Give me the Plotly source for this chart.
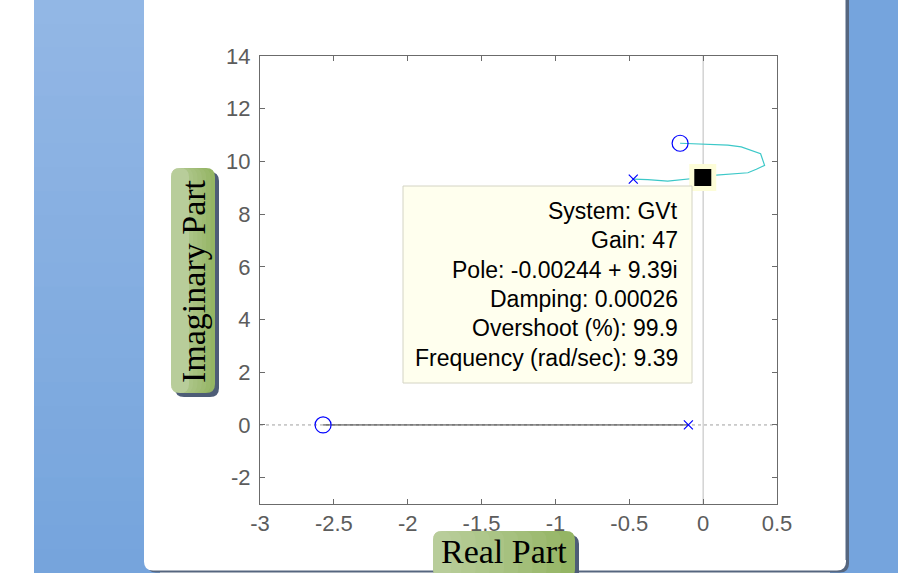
import plotly.graph_objects as go

# ---------------- data ----------------
locus_re = [-0.473, -0.375, -0.240, -0.081, -0.00244, 0.066, 0.190, 0.303, 0.360, 0.416,
            0.389, 0.326, 0.258, 0.168, -0.014, -0.156]
locus_im = [9.33, 9.31, 9.25, 9.34, 9.39, 9.47, 9.51, 9.57, 9.70, 9.85,
            10.29, 10.42, 10.55, 10.62, 10.65, 10.69]
real_branch_re = [-2.573, -0.100]
real_branch_im = [0.0, 0.0]
zeros_re = [-0.156, -2.573]
zeros_im = [10.69, 0.0]
poles_re = [-0.473, -0.100]
poles_im = [9.33, 0.0]
sel_re = [-0.00244]
sel_im = [9.39]

x_tickvals = [-3, -2.5, -2, -1.5, -1, -0.5, 0, 0.5]
x_ticktext = ["-3", "-2.5", "-2", "-1.5", "-1", "-0.5", "0", "0.5"]
y_tickvals = [-2, 0, 2, 4, 6, 8, 10, 12, 14]
y_ticktext = ["-2", "0", "2", "4", "6", "8", "10", "12", "14"]

tip_lines = ["System: GVt", "Gain: 47", "Pole: -0.00244 + 9.39i", "Damping: 0.00026",
             "Overshoot (%): 99.9", "Frequency (rad/sec): 9.39"]

# ---------------- layout geometry ----------------
W, H = 898, 573
ML, MR, MT, MB = 260, 121, 56, 69
PW, PH = W - ML - MR, H - MT - MB


def px(x):
    return (x - ML) / PW


def py(y):
    return (H - MB - y) / PH


def rrect(x0, y0, x1, y1, r):
    X0, X1 = px(x0), px(x1)
    Y0, Y1 = py(y0), py(y1)
    rx, ry = r / PW, r / PH
    return (f"M{X0+rx},{Y0} L{X1-rx},{Y0} Q{X1},{Y0} {X1},{Y0-ry} "
            f"L{X1},{Y1+ry} Q{X1},{Y1} {X1-rx},{Y1} L{X0+rx},{Y1} "
            f"Q{X0},{Y1} {X0},{Y1+ry} L{X0},{Y0-ry} Q{X0},{Y0} {X0+rx},{Y0} Z")


fig = go.Figure()

fig.add_trace(go.Scatter(x=real_branch_re, y=real_branch_im, mode="lines",
                         line=dict(color="#3a3a3a", width=1), hoverinfo="skip"))
fig.add_trace(go.Scatter(x=locus_re, y=locus_im, mode="lines",
                         line=dict(color="#3cc8c8", width=1.2), hoverinfo="skip"))
fig.add_trace(go.Scatter(x=zeros_re, y=zeros_im, mode="markers",
                         marker=dict(symbol="circle-open", size=16, color="#0000ff",
                                     line=dict(width=1.2, color="#0000ff")), hoverinfo="skip"))
fig.add_trace(go.Scatter(x=poles_re, y=poles_im, mode="markers",
                         marker=dict(symbol="x-thin-open", size=9, color="#0000ff",
                                     line=dict(width=1.2, color="#0000ff")), hoverinfo="skip"))
fig.add_trace(go.Scatter(x=sel_re, y=sel_im, mode="markers",
                         marker=dict(symbol="square", size=27, color="#fdfdd8",
                                     line=dict(width=0)), hoverinfo="skip"))
fig.add_trace(go.Scatter(x=sel_re, y=sel_im, mode="markers",
                         marker=dict(symbol="square", size=17, color="#000000",
                                     line=dict(width=0)), hoverinfo="skip"))

shapes = []
# background blue strips (left gradient)
top_c = (0x93, 0xB7, 0xE5)
bot_c = (0x75, 0xA4, 0xDC)
n = 24
for i in range(n):
    t = (i + 0.5) / n
    c = tuple(round(top_c[k] + (bot_c[k] - top_c[k]) * t) for k in range(3))
    shapes.append(dict(type="rect", xref="paper", yref="paper",
                       x0=px(34), x1=px(160), y0=py(i * H / n), y1=py((i + 1) * H / n + 1),
                       fillcolor="rgb(%d,%d,%d)" % c, line=dict(width=0), layer="below"))
shapes.append(dict(type="rect", xref="paper", yref="paper", x0=px(830), x1=px(898),
                   y0=py(0), y1=py(H), fillcolor="#75A4DD", line=dict(width=0), layer="below"))
# panel shadow + panel
shapes.append(dict(type="path", xref="paper", yref="paper", path=rrect(147, -20, 849, 572.5, 9),
                   fillcolor="#56667f", line=dict(width=0), layer="below"))
shapes.append(dict(type="path", xref="paper", yref="paper", path=rrect(144, -20, 846, 570.5, 9),
                   fillcolor="#ffffff", line=dict(width=0), layer="below"))
shapes.append(dict(type="line", xref="paper", yref="paper", x0=px(845.5), x1=px(845.5),
                   y0=py(-20), y1=py(560), line=dict(color="#a9b3c2", width=1), layer="below"))
# reference lines
shapes.append(dict(type="line", xref="x", yref="paper", x0=0, x1=0, y0=0, y1=1,
                   line=dict(color="#bdbdbd", width=1), layer="below"))
shapes.append(dict(type="line", xref="paper", yref="y", x0=0, x1=1, y0=0, y1=0,
                   line=dict(color="#a0a0a0", width=1, dash="dot"), layer="below"))
# data tip box
shapes.append(dict(type="rect", xref="paper", yref="paper", x0=px(403), x1=px(692),
                   y0=py(186), y1=py(383), fillcolor="#ffffee",
                   line=dict(color="#d4d4c4", width=1), layer="above"))


def label_box(x0, y0, x1, y1):
    out = [dict(type="path", xref="paper", yref="paper", path=rrect(x0 + 4, y0 + 4, x1 + 4, y1 + 4, 9),
                fillcolor="#4e5d77", line=dict(width=0), layer="above"),
           dict(type="path", xref="paper", yref="paper", path=rrect(x0, y0, x1, y1, 9),
                fillcolor="#8fb15c", line=dict(width=0), layer="above")]
    k = 10
    for j in range(1, k + 1):
        xe = x0 + (x1 - x0) * j / k
        out.append(dict(type="path", xref="paper", yref="paper",
                        path=rrect(x0, y0, max(xe, x0 + 18), y1, 9),
                        fillcolor="rgba(255,255,255,0.05)", line=dict(width=0), layer="above"))
    return out


shapes += label_box(171, 168, 215, 393)
shapes += label_box(433, 531, 575, 578)

annotations = []
line_step = 29.3
first_mid = 211
for i, txt in enumerate(tip_lines):
    annotations.append(dict(xref="paper", yref="paper", x=px(680), y=py(first_mid + i * line_step),
                            xanchor="right", yanchor="middle", text=txt, showarrow=False,
                            font=dict(family="Arial, Liberation Sans", size=23, color="#000000")))
annotations.append(dict(xref="paper", yref="paper", x=px(193), y=py(281), text="Imaginary Part",
                        textangle=-90, showarrow=False, xanchor="center", yanchor="middle",
                        font=dict(family="Times New Roman, Liberation Serif", size=34, color="#000000")))
annotations.append(dict(xref="paper", yref="paper", x=px(504), y=py(551), text="Real Part",
                        showarrow=False, xanchor="center", yanchor="middle",
                        font=dict(family="Times New Roman, Liberation Serif", size=34, color="#000000")))

axis_common = dict(showgrid=False, zeroline=False, showline=True, linecolor="#6b6b6b",
                   linewidth=1, mirror="ticks", ticks="inside", ticklen=5, tickcolor="#6b6b6b",
                   tickfont=dict(family="Arial, Liberation Sans", size=22, color="#5c5c5c"))

fig.update_layout(
    width=W, height=H,
    margin=dict(l=ML, r=MR, t=MT, b=MB, pad=0),
    paper_bgcolor="#ffffff", plot_bgcolor="rgba(0,0,0,0)",
    showlegend=False,
    xaxis=dict(range=[-3, 0.5], tickvals=x_tickvals, ticktext=x_ticktext, **axis_common),
    yaxis=dict(range=[-3, 14], tickvals=y_tickvals, ticktext=y_ticktext,
               ticklabelstandoff=4, **axis_common),
    shapes=shapes, annotations=annotations,
)

fig.write_html("out.html", config={"displayModeBar": False},
               post_script="document.body.style.margin='0';document.body.style.overflow='hidden';")
